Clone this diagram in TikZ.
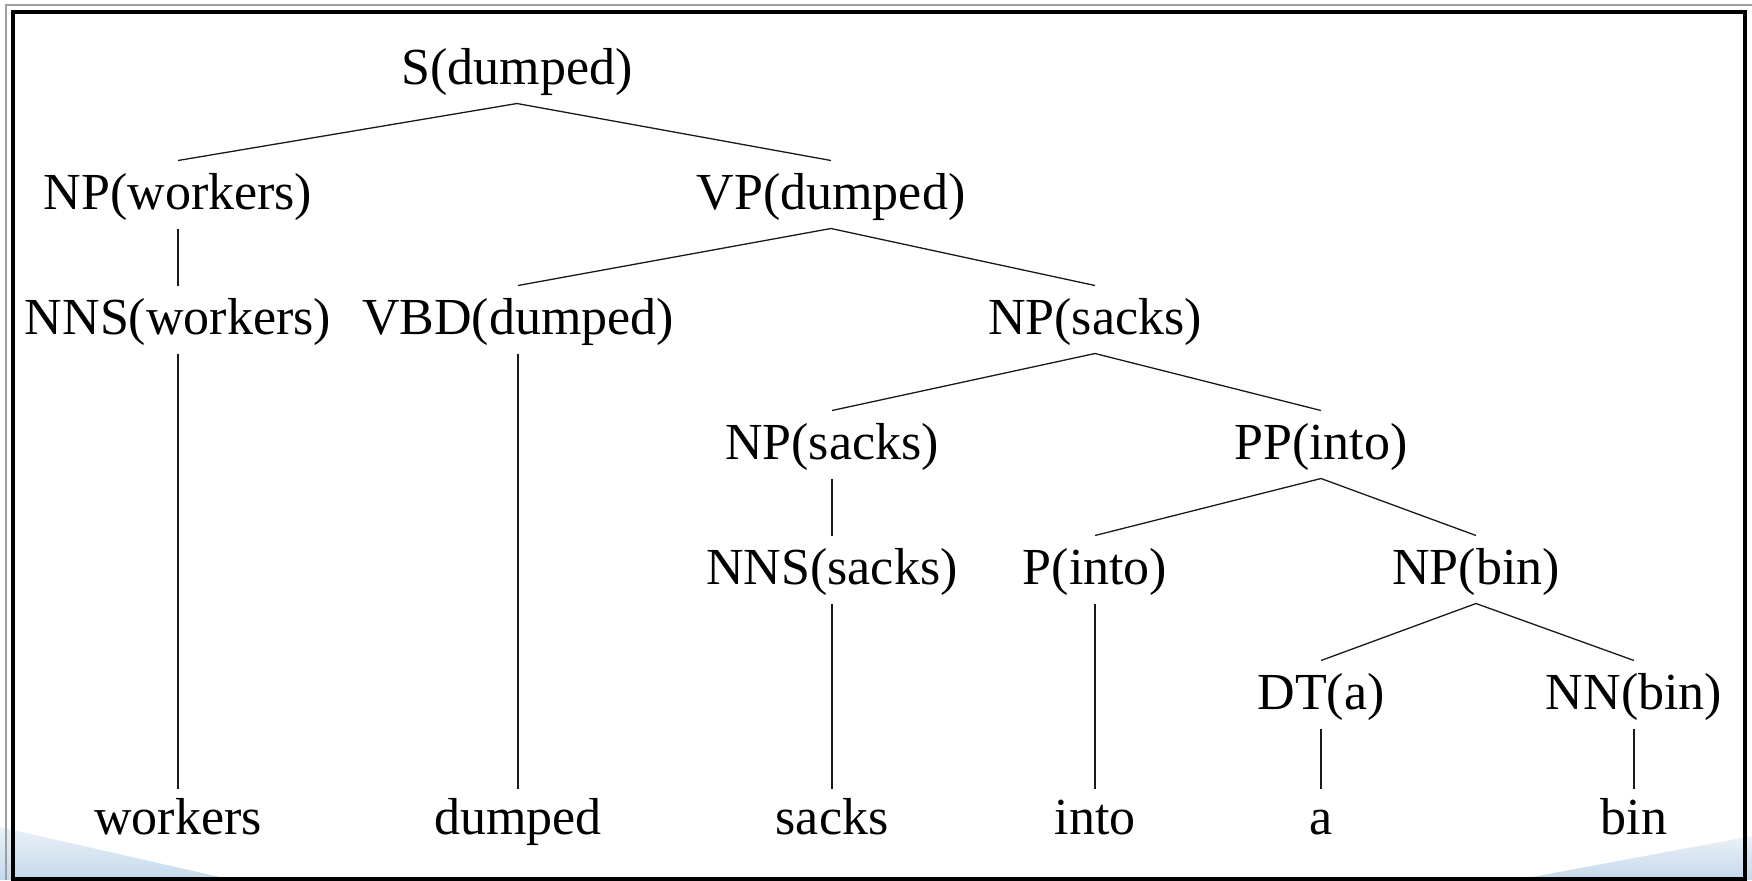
\documentclass[tikz,border=0pt]{standalone}
\usepackage{fontspec}
\setmainfont{Liberation Serif}
\begin{document}
\begin{tikzpicture}[x=0.5pt,y=-0.5pt]
\tikzset{
  lbl/.style={inner sep=0pt, outer sep=0pt, anchor=base,
    font=\fontsize{26pt}{30pt}\selectfont, text height=24.25pt, text depth=9.75pt},
  leaf/.style={lbl, text height=22.5pt, text depth=8pt},
  branch/.style={line width=0.65pt, draw=black!90},
  wedge/.style={top color={rgb,255:red,234;green,241;blue,248},
    bottom color={rgb,255:red,196;green,217;blue,235}}
}
\useasboundingbox (0,0) rectangle (1752,880);

% light blue corner wedges
\shade[wedge] (0,827) -- (233,880) -- (0,880) -- cycle;
\shade[wedge] (1752,836) -- (1516,880) -- (1752,880) -- cycle;

% frame
\draw[gray!75, line width=1pt] (5.5,880) -- (5.5,5) -- (1752,5);
\draw[black, line width=2pt] (13,11.5) rectangle (1744.5,878.5);

% nodes (level baselines)
\node[lbl] (s)    at (517,84)  {S(dumped)};
\node[lbl] (npw)  at (178,209) {NP(workers)};
\node[lbl] (vp)   at (831,209) {VP(dumped)};
\node[lbl] (nnsw) at (178,334) {NNS(workers)};
\node[lbl] (vbd)  at (518,334) {VBD(dumped)};
\node[lbl] (nps)  at (1095,334) {NP(sacks)};
\node[lbl] (nps2) at (832,459) {NP(sacks)};
\node[lbl] (pp)   at (1321,459) {PP(into)};
\node[lbl] (nnss) at (832,584) {NNS(sacks)};
\node[lbl] (p)    at (1095,584) {P(into)};
\node[lbl] (npb)  at (1476,584) {NP(bin)};
\node[lbl] (dt)   at (1321,709) {DT(a)};
\node[lbl] (nn)   at (1634,709) {NN(bin)};

\node[leaf] (wworkers) at (178,834) {workers};
\node[leaf] (wdumped)  at (518,834) {dumped};
\node[leaf] (wsacks)   at (832,834) {sacks};
\node[leaf] (winto)    at (1095,834) {into};
\node[leaf] (wa)       at (1321,834) {a};
\node[leaf] (wbin)     at (1634,834) {bin};

% branches
\draw[branch] (npw.north) -- (s.south) -- (vp.north);
\draw[branch] (npw.south) -- (nnsw.north);
\draw[branch] (vbd.north) -- (vp.south) -- (nps.north);
\draw[branch] (nps2.north) -- (nps.south) -- (pp.north);
\draw[branch] (nps2.south) -- (nnss.north);
\draw[branch] (p.north) -- (pp.south) -- (npb.north);
\draw[branch] (dt.north) -- (npb.south) -- (nn.north);
\draw[branch] (nnsw.south) -- (wworkers.north);
\draw[branch] (vbd.south) -- (wdumped.north);
\draw[branch] (nnss.south) -- (wsacks.north);
\draw[branch] (p.south) -- (winto.north);
\draw[branch] (dt.south) -- (wa.north);
\draw[branch] (nn.south) -- (wbin.north);
\end{tikzpicture}
\end{document}
